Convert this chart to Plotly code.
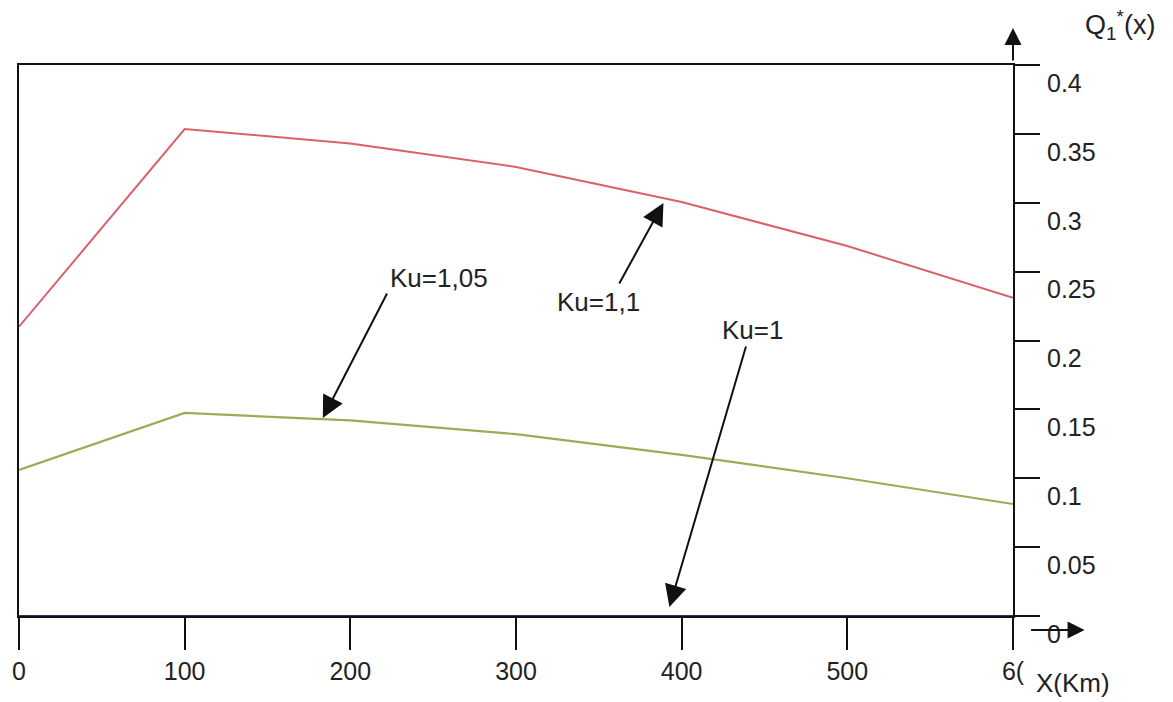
import plotly.graph_objects as go

x_km = [0, 100, 200, 300, 400, 500, 600]
ku_1_1 = [0.210, 0.3535, 0.343, 0.326, 0.3005, 0.2686, 0.231]
ku_1_05 = [0.106, 0.1474, 0.142, 0.132, 0.117, 0.100, 0.0813]
ku_1 = [0, 0, 0, 0, 0, 0, 0]

x_tickvals = [0, 100, 200, 300, 400, 500, 600]
x_ticktext = ["0", "100", "200", "300", "400", "500", "6("]
y_tickvals = [0, 0.05, 0.1, 0.15, 0.2, 0.25, 0.3, 0.35, 0.4]
y_ticktext = ["0", "0.05", "0.1", "0.15", "0.2", "0.25", "0.3", "0.35", "0.4"]

FONT = "Liberation Sans, Arial, sans-serif"
TXT = "#222"

fig = go.Figure()
fig.add_trace(go.Scatter(x=x_km, y=ku_1_1, mode="lines", name="Ku=1,1",
                         line=dict(color="#dc6068", width=2)))
fig.add_trace(go.Scatter(x=x_km, y=ku_1_05, mode="lines", name="Ku=1,05",
                         line=dict(color="#98ad58", width=2.2)))
fig.add_trace(go.Scatter(x=x_km, y=ku_1, mode="lines", name="Ku=1",
                         line=dict(color="#2a3a5a", width=2)))

fig.update_layout(
    width=1173, height=702,
    margin=dict(l=15, r=160, t=65, b=86),
    paper_bgcolor="white", plot_bgcolor="white",
    showlegend=False,
    font=dict(family=FONT, size=26, color=TXT),
    xaxis=dict(range=[0, 600], tickvals=x_tickvals, ticktext=x_ticktext,
               showgrid=False, zeroline=False, showline=True, mirror=True,
               linecolor="#111", linewidth=2, ticks="outside", ticklen=32,
               tickwidth=2, tickcolor="#111",
               tickfont=dict(size=25, family=FONT, color=TXT)),
    yaxis=dict(range=[0, 0.4], tickvals=y_tickvals, ticktext=y_ticktext,
               side="right", showgrid=False, zeroline=False, showline=True, mirror=True,
               linecolor="#111", linewidth=2, ticks="outside", ticklen=25,
               tickwidth=2, tickcolor="#111", ticklabelshift=18, ticklabelstandoff=2,
               tickfont=dict(size=25, family=FONT, color=TXT)),
)

ann = []
# curve labels
ann.append(dict(x=253.7, y=0.2454, xref="x", yref="y", text="Ku=1,05", showarrow=False,
                font=dict(size=26, family=FONT, color=TXT)))
ann.append(dict(x=350, y=0.228, xref="x", yref="y", text="Ku=1,1", showarrow=False,
                font=dict(size=26, family=FONT, color=TXT)))
ann.append(dict(x=443, y=0.2076, xref="x", yref="y", text="Ku=1", showarrow=False,
                font=dict(size=26, family=FONT, color=TXT)))
# arrows
arrow_style = dict(showarrow=True, arrowhead=2, arrowsize=2.2, arrowwidth=2,
                   arrowcolor="#111", text="", axref="pixel", ayref="pixel")
axis_arrow = dict(showarrow=True, arrowhead=2, arrowsize=1.7, arrowwidth=2,
                  arrowcolor="#111", text="", axref="pixel", ayref="pixel")
ann.append(dict(x=183.4, y=0.1437, xref="x", yref="y", ax=65, ay=-126, **arrow_style))
ann.append(dict(x=389, y=0.2998, xref="x", yref="y", ax=-45, ay=82, **arrow_style))
ann.append(dict(x=392.6, y=0.0065, xref="x", yref="y", ax=77, ay=-262, **arrow_style))
# axis arrows
ann.append(dict(x=1.0, y=1.067, xref="paper", yref="paper", ax=0, ay=34, **axis_arrow))
ann.append(dict(x=1.072, y=-0.0254, xref="paper", yref="paper", ax=-55, ay=0, **axis_arrow))
# axis titles
ann.append(dict(x=1.108, y=1.073, xref="paper", yref="paper", xanchor="center", yanchor="middle",
                text="Q<sub>1</sub><sup>*</sup>(x)", showarrow=False,
                font=dict(size=27, family=FONT, color=TXT)))
ann.append(dict(x=1.06, y=-0.122, xref="paper", yref="paper", xanchor="center", yanchor="middle",
                text="X(Km)", showarrow=False,
                font=dict(size=26, family=FONT, color=TXT)))
fig.update_layout(annotations=ann)

fig.write_html("out.html")
